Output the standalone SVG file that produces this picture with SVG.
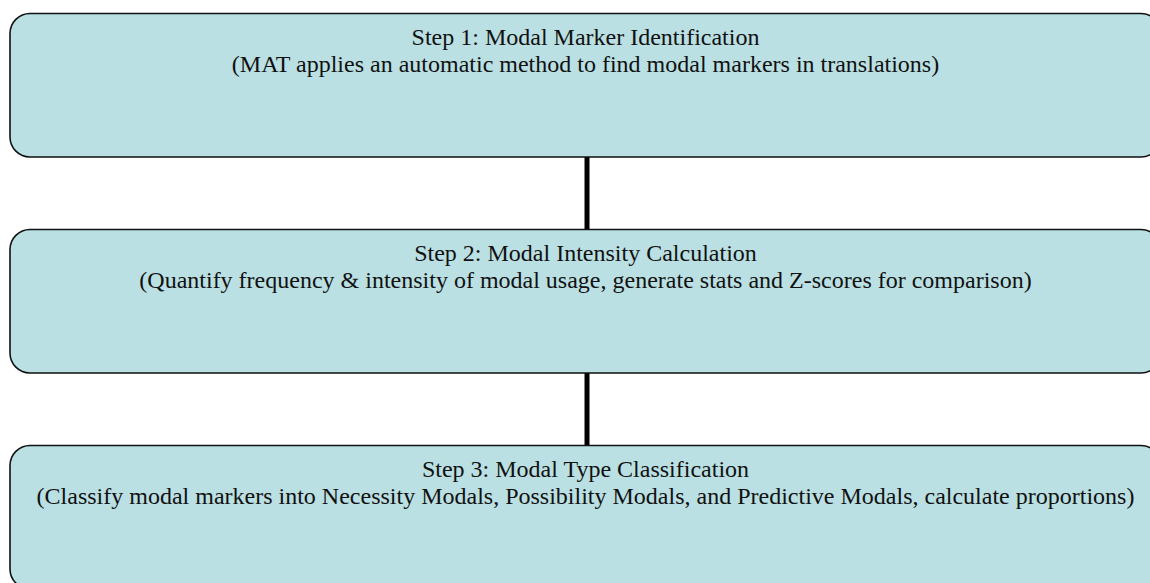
<svg xmlns="http://www.w3.org/2000/svg" width="1150" height="583" viewBox="0 0 1150 583">
<style>
.box{fill:#bae0e3;stroke:#111;stroke-width:1.6}
.t{font-family:"Liberation Serif","Times New Roman",serif;font-size:24px;fill:#111;text-anchor:middle}
.edge{stroke:#000;stroke-width:5;fill:none}
</style>
<rect x="0" y="0" width="1150" height="583" fill="#fff"/>
<g id="connectors">
<line class="edge" x1="587" y1="157" x2="587" y2="229"/>
<line class="edge" x1="587" y1="373" x2="587" y2="445"/>
</g>
<g id="step1">
<rect class="box" x="10" y="13.5" width="1151" height="143.5" rx="20" ry="20"/>
<text class="t" x="585.5" y="44.5">Step 1: Modal Marker Identification</text>
<text class="t" x="585.5" y="72">(MAT applies an automatic method to find modal markers in translations)</text>
</g>
<g id="step2">
<rect class="box" x="10" y="229.5" width="1151" height="143.5" rx="20" ry="20"/>
<text class="t" x="585.5" y="260.5">Step 2: Modal Intensity Calculation</text>
<text class="t" x="585.5" y="288">(Quantify frequency &amp; intensity of modal usage, generate stats and Z-scores for comparison)</text>
</g>
<g id="step3">
<rect class="box" x="10" y="445.5" width="1151" height="143.5" rx="20" ry="20"/>
<text class="t" x="585.5" y="476.5">Step 3: Modal Type Classification</text>
<text class="t" x="585.5" y="504">(Classify modal markers into Necessity Modals, Possibility Modals, and Predictive Modals, calculate proportions)</text>
</g>
</svg>
